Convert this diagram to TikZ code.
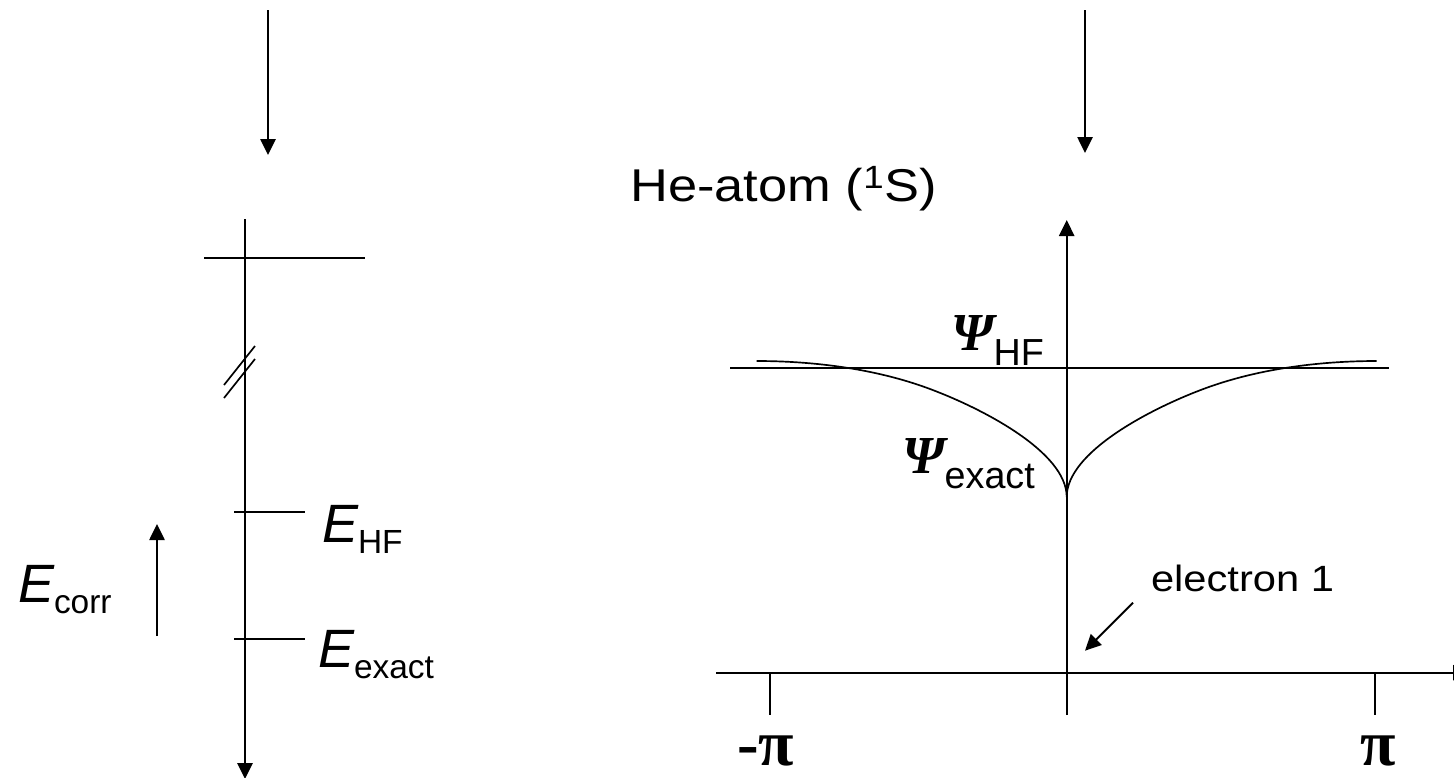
\documentclass[tikz,border=0pt]{standalone}
\usepackage{fontspec}
\usepackage{graphicx}
\setmainfont{Liberation Sans}
\newfontfamily\grk{Liberation Serif}
\usetikzlibrary{arrows.meta}
\definecolor{ink}{HTML}{000000}
\newcommand{\fs}[1]{\fontsize{#1}{#1}\selectfont}
\newcommand{\elab}[1]{{\fs{38.4pt}\itshape E}\raisebox{-8.5pt}{\fs{23.8pt}#1}}
\newcommand{\psilab}[1]{{\grk\fs{38pt}\bfseries\itshape Ψ}\raisebox{-10.7pt}{\fs{26.8pt}#1}}
\tikzset{
  >={Triangle[length=4mm,width=3.8mm]},
  every picture/.style={line width=0.5mm,draw=ink},
  ax/.style={->,draw=ink},
  tk/.style={draw=ink,line width=0.42mm},
  txt/.style={anchor=base west,inner sep=0pt,text=ink},
}

\begin{document}
\begin{tikzpicture}[x=0.25mm,y=-0.25mm]
  \useasboundingbox (0,0) rectangle (1454,777);
  \coordinate (inL) at (268,10); \coordinate (inLe) at (268,155);
  \coordinate (inR) at (1085,10); \coordinate (inRe) at (1085,153);
  \draw[ax] (inL) -- (inLe);
  \draw[ax] (inR) -- (inRe);
  \coordinate (etop) at (245,219); \coordinate (ebot) at (245,779);
  \draw[ax] (etop) -- (ebot);
  \draw[tk] (204,257.7) -- (365,257.7);
  \draw[tk] (224,385) -- (255,346);
  \draw[tk] (224,398) -- (255,359);
  \coordinate (hf) at (234,512); \coordinate (ex) at (234,639);
  \draw[tk] (hf) -- ++(71,0);
  \draw[tk] (ex) -- ++(71,0);
  \draw[ax] (157,636) -- (157,524);
  \node[txt] (ehf) at (321,542) {\elab{HF}};
  \node[txt] (eexact) at (317,667) {\elab{exact}};
  \node[txt] (ecorr) at (17,602) {\elab{corr}};
  \node[txt,anchor=base east] (title) at (938,201) {\scalebox{1.14}[1]{\fs{32.7pt}He-atom (\textsuperscript{1}S)}};
  \coordinate (o) at (1066.7,672.7); \coordinate (cusp) at (1066.7,497);
  \draw[ax] (1066.7,715) -- (1066.7,220);
  \draw[ax] (716,672.7) -- (1469,672.7);
  \draw[tk] (770.3,672.7) -- (770.3,715);
  \draw[tk] (1375,672.7) -- (1375,715);
  \draw[tk] (730,368) -- (1389,368);
  \draw[tk] (756.7,361) .. controls (806.7,361) and (872.7,367) .. (932.7,390)
    .. controls (982.7,409) and (1066.7,452) .. (cusp)
    .. controls (1066.7,452) and (1150.7,409) .. (1200.7,390)
    .. controls (1260.7,367) and (1326.7,361) .. (1376.7,361);
  \node[txt] (psihf) at (950,350) {\psilab{HF}};
  \node[txt] (psiex) at (901,473) {\psilab{exact}};
  \node[txt] (elec) at (1150,591) {\scalebox{1.14}[1]{\fs{26pt}electron 1}};
  \coordinate (ea) at (1133,602.7); \coordinate (eb) at (1085,650.7);
  \draw[ax] (ea) -- (eb);
  \node[txt,anchor=base east] (mpi) at (795,765) {\grk\bfseries\fs{46pt}-π};
  \node[txt,anchor=base] (ppi) at (1378,765) {\grk\bfseries\fs{46pt}π};
\end{tikzpicture}
\end{document}
